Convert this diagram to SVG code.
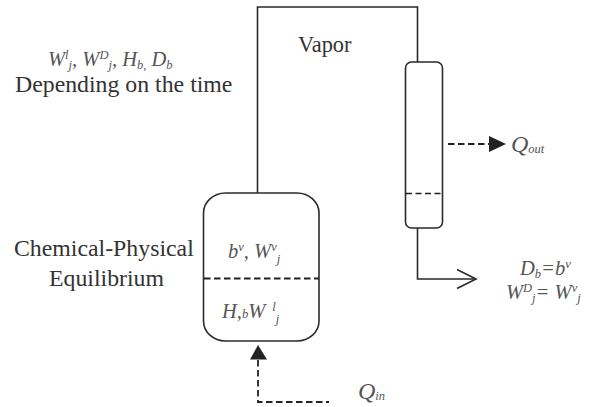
<svg xmlns="http://www.w3.org/2000/svg" width="599" height="407" viewBox="0 0 599 407">
<style>
.s{fill:none;stroke:#2a2a2a;stroke-width:1.6}
.d{fill:none;stroke:#222;stroke-width:1.8;stroke-dasharray:6.500 3.500}
.t{fill:none;stroke:#222;stroke-width:1.3;stroke-dasharray:6 3.500}
.a{fill:#222}
text{font-family:"Liberation Serif","Times New Roman",serif;fill:#333}
.r{font-size:23.8px}
.i{font-style:italic;font-size:20.500px;fill:#555}
.u{font-size:12.500px}
</style>
<rect width="599" height="407" fill="#fff"/>
<g id="connectors">
<path class="s" d="M257.500 193V7H417.500V62"/>
<path class="s" d="M417.500 228V279H476"/>
<path class="s" d="M457 269.500L476 279L457 288.500"/>
<path class="d" d="M448 144H489"/>
<polygon class="a" points="489,136 506,144 489,152"/>
<path class="d" d="M258 360V402H329"/>
<polygon class="a" points="258,345 250,359.500 267,359.500"/>
</g>
<g id="reboiler">
<rect class="s" x="203.500" y="193" width="115.500" height="148" rx="22" ry="20"/>
<path class="d" d="M204 278.500H319"/>
<text class="i" x="228" y="258">b<tspan class="u" dy="-7">v</tspan><tspan dy="7">, W</tspan><tspan class="u" dy="-7">v</tspan><tspan class="u" dy="12">j</tspan></text>
<text class="i" x="222" y="318">H,<tspan class="u">b</tspan>W<tspan class="u" dx="7" dy="-7">l</tspan><tspan class="u" dy="12">j</tspan></text>
</g>
<g id="condenser">
<rect class="s" x="405.500" y="62" width="37" height="166" rx="6" ry="6"/>
<path class="t" d="M406 193.500H442"/>
</g>
<g id="labels">
<text x="298" y="52" style="font-size:22.400px">Vapor</text>
<text class="i" x="48" y="66">W<tspan class="u" dy="-7">l</tspan><tspan class="u" dy="10">j</tspan><tspan dy="-3">, W</tspan><tspan class="u" dy="-7">D</tspan><tspan class="u" dy="10">j</tspan><tspan dy="-3">, H</tspan><tspan class="u" dy="3">b,</tspan><tspan dy="-3"> D</tspan><tspan class="u" dy="3">b</tspan></text>
<text class="r" x="15" y="92">Depending on the time</text>
<text class="r" x="14" y="256">Chemical-Physical</text>
<text class="r" x="49" y="286">Equilibrium</text>
<text class="i" x="511" y="152" style="font-size:24px">Q<tspan class="u" dy="1">out</tspan></text>
<text class="i" x="358" y="399" style="font-size:24px">Q<tspan class="u" dy="1">in</tspan></text>
<text class="i" x="520" y="275">D<tspan class="u" dy="3">b</tspan><tspan dy="-3">=b</tspan><tspan class="u" dy="-7">v</tspan></text>
<text class="i" x="506" y="299">W<tspan class="u" dy="-7">D</tspan><tspan class="u" dy="10">j</tspan><tspan dy="-3">= W</tspan><tspan class="u" dy="-7">v</tspan><tspan class="u" dy="10">j</tspan></text>
</g>
</svg>
